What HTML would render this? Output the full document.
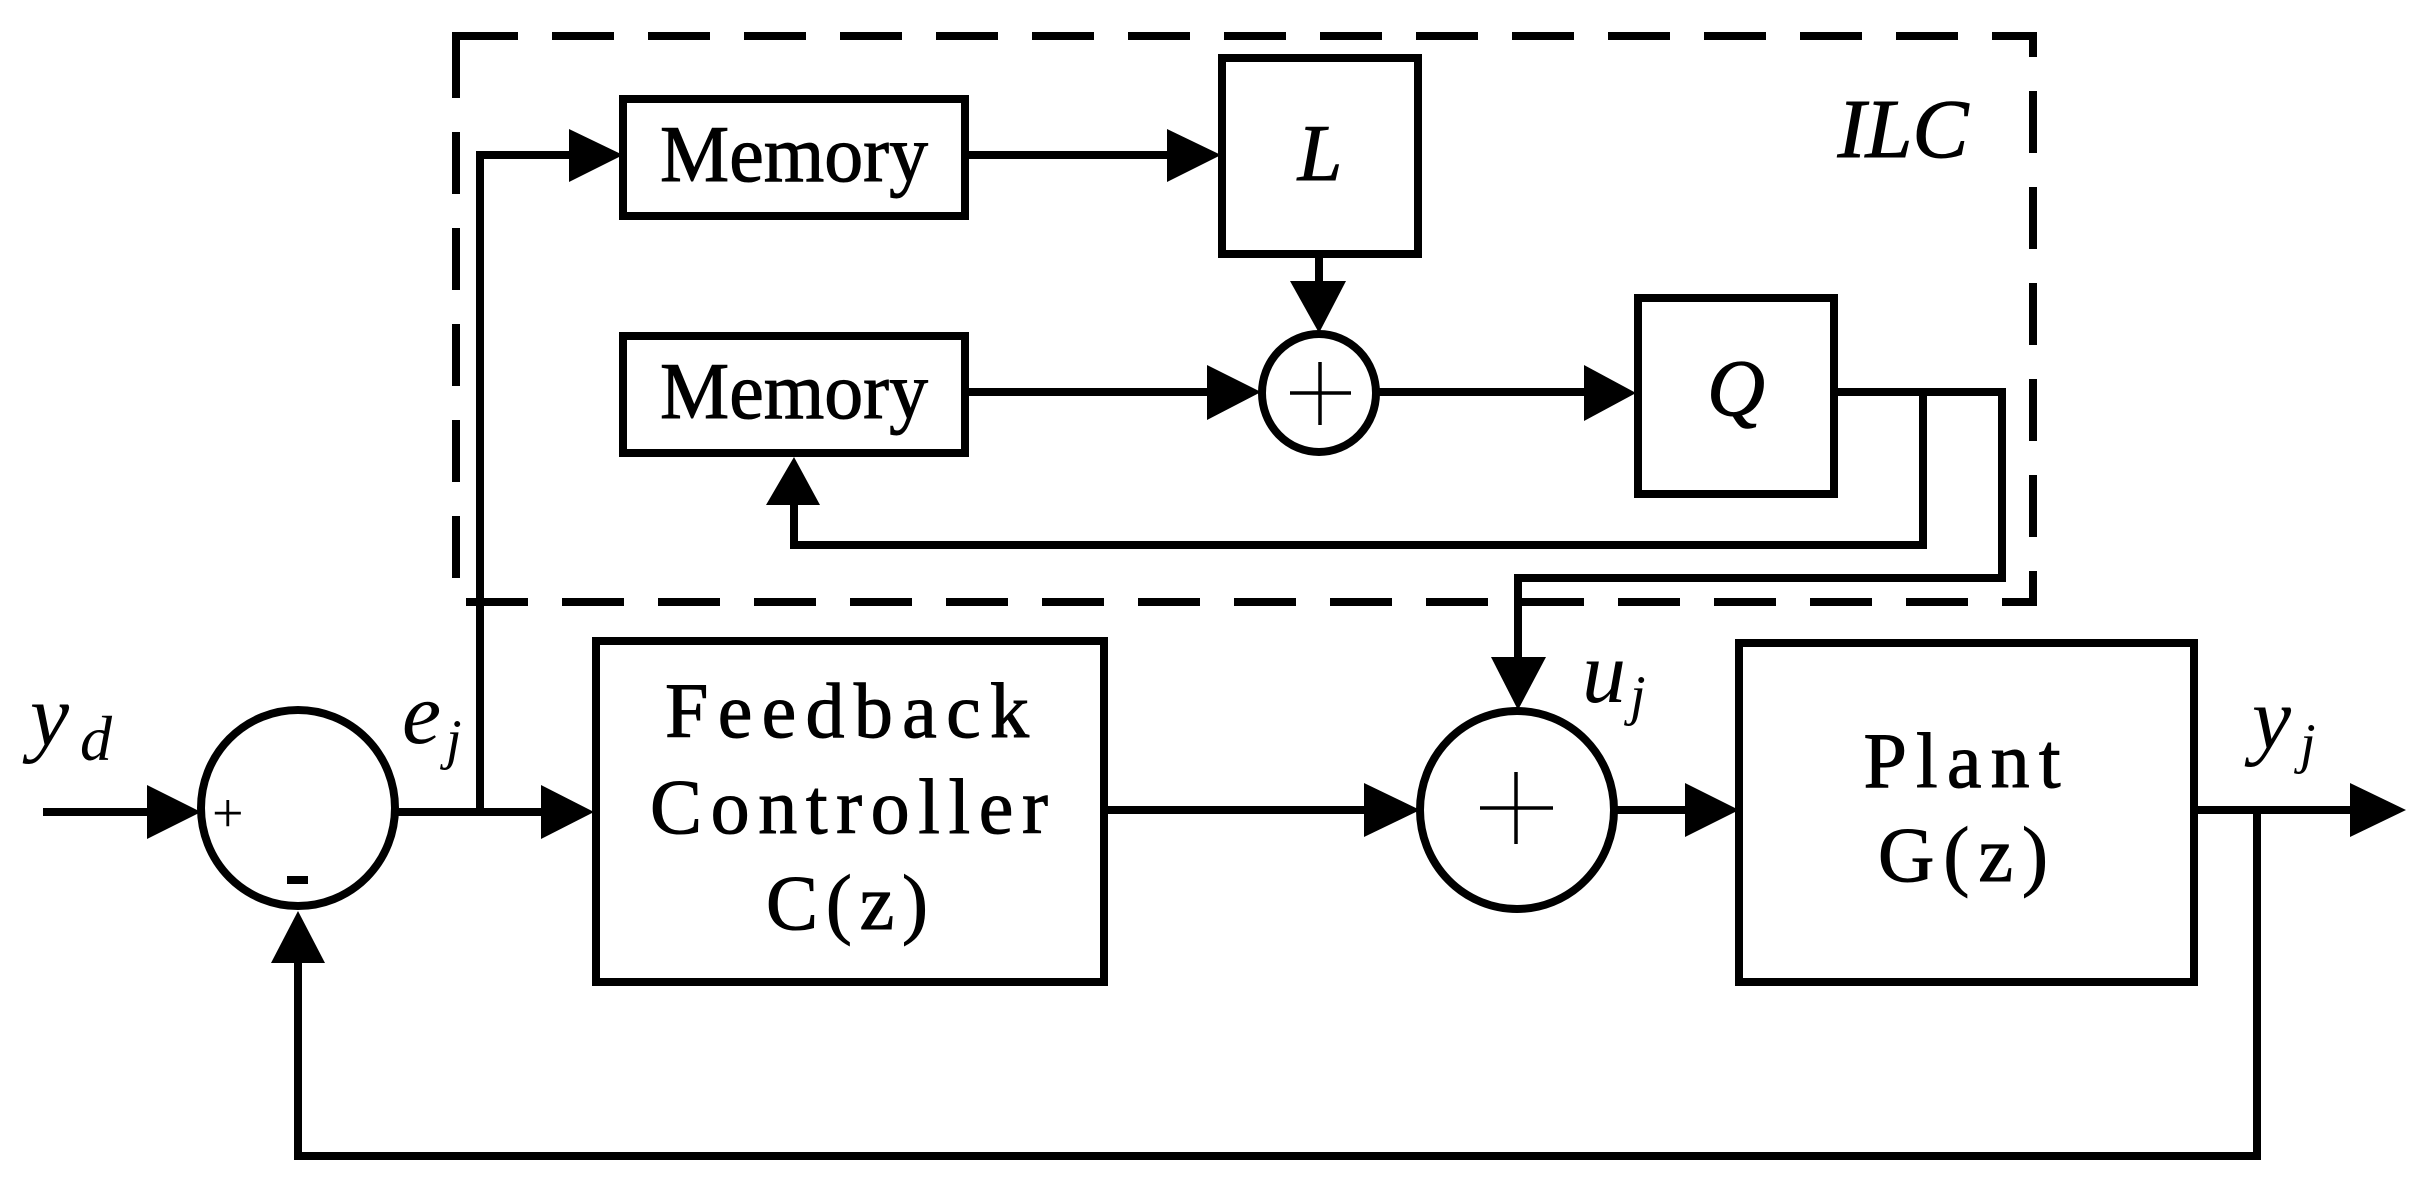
<!DOCTYPE html>
<html><head><meta charset="utf-8"><style>html,body{margin:0;padding:0;background:#fff}svg{display:block}</style></head>
<body>
<svg width="2426" height="1186" viewBox="0 0 2426 1186" xmlns="http://www.w3.org/2000/svg" font-family="'Liberation Serif', serif">
<rect x="0" y="0" width="2426" height="1186" fill="#fff"/>
<rect x="456" y="36" width="1577" height="566" fill="none" stroke="#000" stroke-width="8" stroke-dasharray="62 34"/>
<g fill="none" stroke="#000" stroke-width="8">
<rect x="623" y="99" width="342" height="117"/>
<rect x="623" y="336" width="342" height="117"/>
<rect x="1222" y="58" width="196" height="196"/>
<rect x="1638" y="298" width="196" height="196"/>
<ellipse cx="1319" cy="393" rx="57" ry="59"/>
<rect x="596" y="641" width="508" height="341"/>
<rect x="1739" y="643" width="455" height="339"/>
<ellipse cx="298" cy="808" rx="97" ry="98"/>
<ellipse cx="1517" cy="810" rx="97" ry="99"/>
<polyline points="480,812 480,155 575,155"/>
<line x1="965" y1="155" x2="1170" y2="155"/>
<line x1="1319" y1="254" x2="1319" y2="285"/>
<line x1="965" y1="392" x2="1210" y2="392"/>
<line x1="1378" y1="392" x2="1590" y2="392"/>
<polyline points="1834,392 2002,392 2002,578 1518,578 1518,660"/>
<polyline points="1923,392 1923,545 794,545 794,500"/>
<line x1="43" y1="812" x2="150" y2="812"/>
<line x1="396" y1="812" x2="545" y2="812"/>
<line x1="1104" y1="810" x2="1368" y2="810"/>
<line x1="1614" y1="810" x2="1690" y2="810"/>
<line x1="2194" y1="810" x2="2355" y2="810"/>
<polyline points="2257,810 2257,1156 298,1156 298,960"/>
</g>
<g fill="#000">
<polygon points="623,155 569,129 569,182"/>
<polygon points="1221,155 1167,129 1167,182"/>
<polygon points="1319,333 1290,281 1346,281"/>
<polygon points="1261,392 1207,365 1207,420"/>
<polygon points="1636,393 1584,365 1584,421"/>
<polygon points="794,457 766,505 820,505"/>
<polygon points="1518,710 1491,657 1546,657"/>
<polygon points="201,812 147,785 147,839"/>
<polygon points="594,812 541,785 541,839"/>
<polygon points="1420,810 1364,783 1364,837"/>
<polygon points="1739,810 1685,783 1685,837"/>
<polygon points="2406,810 2350,783 2350,837"/>
<polygon points="298,911 271,963 325,963"/>
</g>
<g stroke="#000" stroke-width="3.5">
<line x1="1290" y1="393" x2="1351" y2="393"/><line x1="1320" y1="362" x2="1320" y2="425"/>
<line x1="1480" y1="808" x2="1553" y2="808"/><line x1="1516" y1="772" x2="1516" y2="844"/>
</g>
<g fill="#000" text-anchor="middle" stroke="#000" stroke-width="1">
<text x="794" y="181" font-size="80" textLength="268" lengthAdjust="spacingAndGlyphs">Memory</text>
<text x="794" y="418" font-size="80" textLength="268" lengthAdjust="spacingAndGlyphs">Memory</text>
<text x="1320" y="180" font-size="80" font-style="italic">L</text>
<text x="1736" y="415" font-size="80" font-style="italic">Q</text>
<text x="1903" y="157" font-size="84" font-style="italic">ILC</text>
<text x="847" y="737" font-size="78" textLength="364" lengthAdjust="spacing">Feedback</text>
<text x="849" y="833" font-size="78" textLength="398" lengthAdjust="spacing">Controller</text>
<text x="847" y="929" font-size="78" textLength="162" lengthAdjust="spacing">C(z)</text>
<text x="1962" y="787" font-size="78" textLength="197" lengthAdjust="spacing">Plant</text>
<text x="1963" y="881" font-size="78" textLength="170" lengthAdjust="spacing">G(z)</text>
</g>
<g fill="#000" font-style="italic">
<text x="30" y="745" font-size="88">y</text><text x="80" y="760" font-size="64">d</text>
<text x="402" y="743" font-size="88">e</text><text x="446" y="758" font-size="56">j</text>
<text x="1582" y="702" font-size="88">u</text><text x="1630" y="714" font-size="56">j</text>
<text x="2252" y="748" font-size="88">y</text><text x="2300" y="762" font-size="56">j</text>
<text x="212" y="832" font-size="56" font-style="normal">+</text>
</g>
<rect x="287" y="876" width="21" height="8" fill="#000"/>
</svg>
</body></html>
